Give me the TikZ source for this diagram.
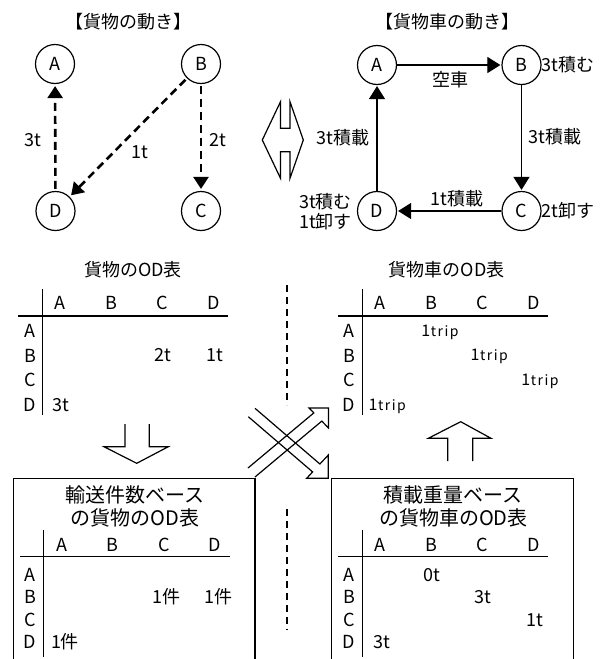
\documentclass[tikz,border=0pt]{standalone}
\usepackage{fontspec}
\setmainfont{Noto Sans CJK JP}
\usetikzlibrary{arrows.meta}
\newcommand\triptxt{{\fontsize{16}{16}\selectfont 1}{\fontsize{14}{14}\selectfont\kern0.5pt t\kern1.5pt r\kern1.5pt i\kern1.5pt p}}
\begin{document}
\begin{tikzpicture}[x=1pt,y=-1pt,
  every node/.style={font=\fontsize{18}{20}\selectfont, inner sep=0pt},
  stn/.style={circle, draw, line width=1.2pt, minimum size=39pt, inner sep=0pt},
  dasharrow/.style={line width=2.6pt, dash pattern=on 8pt off 5pt, shorten >=2pt, shorten <=2pt, -{Triangle[length=12pt,width=15pt]}},
  solidarrow/.style={line width=1.1pt, shorten >=1pt, -{Triangle[length=13pt,width=16pt]}},
  hollow/.style={line width=1.2pt, line join=miter},
  tbl/.style={line width=1.3pt},
  boxline/.style={line width=1.2pt},
  middash/.style={line width=2.6pt, dash pattern=on 7pt off 5pt},
  bigtitle/.style={font=\fontsize{20}{22}\selectfont}]
\useasboundingbox (0,0) rectangle (612,659);

% ---- titles
\node (ttl1) at (128,22) {【貨物の動き】};
\node (ttl2) at (447.5,22) {【貨物車の動き】};

% ---- cargo movement
\node[stn] (gA) at (55,64) {A};
\node[stn] (gB) at (201,64) {B};
\node[stn] (gD) at (55.5,211) {D};
\node[stn] (gC) at (201,211) {C};
\draw[dasharrow] (gD) -- (gA);
\draw[dasharrow] (gB) -- (gD);
\draw[dasharrow] (gB) -- (gC);
\node (l3t) at (33,140) {3t};
\node (l2t) at (218,140) {2t};
\node (l1t) at (140,152) {1t};

% ---- double hollow arrow
\draw[hollow] (262.3,140) -- (280.5,101.7) -- (280.5,128.3) -- (290,128.3) -- (290,101.7)
  -- (303.3,140) -- (290,178.3) -- (290,151.7) -- (280.5,151.7) -- (280.5,178.3) -- cycle;

% ---- truck movement
\node[stn] (tA) at (377,65) {A};
\node[stn] (tB) at (521.5,65) {B};
\node[stn] (tD) at (377,211) {D};
\node[stn] (tC) at (521.5,211) {C};
\draw[solidarrow] (tA) -- (tB);
\draw[solidarrow] (tB) -- (tC);
\draw[solidarrow] (tC) -- (tD);
\draw[solidarrow] (tD) -- (tA);
\node (lAB) at (450,80) {空車};
\node[anchor=west] (lB) at (541.5,65) {3t積む};
\node (lBC) at (555,137) {3t積載};
\node (lCD) at (456.7,199) {1t積載};
\node[anchor=west] (lC) at (541.5,211) {2t卸す};
\node (lDA) at (343,138) {3t積載};
\node[anchor=east] (lD1) at (352,202) {3t積む};
\node[anchor=east] (lD2) at (352,222) {1t卸す};

% ---- table 1
\node (h1) at (133,270) {貨物のOD表};
\draw[tbl] (42.7,289) -- (42.7,415);
\draw[tbl] (18.3,316) -- (228.3,316);
\foreach \c [count=\i from 0] in {A,B,C,D} {
  \node (t1c\c) at (60+51.1*\i,303.3) {\c};
  \node (t1r\c) at (30,330.7+24.8*\i) {\c};
}
\node (t1BC) at (163.3,355) {2t};
\node (t1BD) at (215,355) {1t};
\node (t1DA) at (60.7,405) {3t};

% ---- table 2
\node (h2) at (446.7,270) {貨物車のOD表};
\draw[tbl] (362.3,289) -- (362.3,415);
\draw[tbl] (338.3,316) -- (547.7,316);
\foreach \c [count=\i from 0] in {A,B,C,D} {
  \node (t2c\c) at (380+51.1*\i,303.3) {\c};
  \node (t2r\c) at (349,330.7+24.8*\i) {\c};
}
\node (t2AB) at (440,332) {\triptxt};
\node (t2BC) at (489.3,356) {\triptxt};
\node (t2CD) at (540,381) {\triptxt};
\node (t2DA) at (387.3,406) {\triptxt};

% ---- middle dashed separators
\draw[middash] (287,285) -- (287,405);
\draw[middash] (287,509) -- (287,630);

% ---- hollow down / up arrows
\draw[hollow] (125,424) -- (125,446.7) -- (104,446.7) -- (136.7,463.3) -- (168.3,446.7) -- (149.3,446.7) -- (149.3,424);
\draw[hollow] (447.7,461) -- (447.7,438.3) -- (428.3,438.3) -- (460.7,421.7) -- (491,438.3) -- (472.7,438.3) -- (472.7,461);

% ---- crossing hollow arrows
\draw[hollow] (255,477) -- (321.8,421.1) -- (328.5,428) -- (328.5,408) -- (309,408) -- (313.8,412.9) -- (248,468);
\draw[hollow] (248.3,416.7) -- (312.6,471.9) -- (306.7,478.3) -- (328.3,478.3) -- (328.3,455) -- (319.9,464.0) -- (255,408.3);

% ---- bottom boxes
\draw[boxline] (13.3,660) -- (13.3,478.3) -- (255,478.3) -- (255,660);
\draw[boxline] (331.7,660) -- (331.7,478.3) -- (573.3,478.3) -- (573.3,660);

% ---- table 3
\node[bigtitle] (h3a) at (135,495) {輸送件数ベース};
\node[bigtitle] (h3b) at (135,518.3) {の貨物のOD表};
\draw[tbl] (43.3,530) -- (43.3,656.7);
\draw[tbl] (20,556.7) -- (230,556.7);
\foreach \c [count=\i from 0] in {A,B,C,D} {
  \node (t3c\c) at (61.7+51.1*\i,545) {\c};
  \node (t3r\c) at (30,575+22.2*\i) {\c};
}
\node (t3BC) at (166.7,596.7) {1件};
\node (t3BD) at (218.3,596.7) {1件};
\node (t3DA) at (65,641.7) {1件};

% ---- table 4
\node[bigtitle] (h4a) at (453.3,495) {積載重量ベース};
\node[bigtitle] (h4b) at (453.3,518.3) {の貨物車のOD表};
\draw[tbl] (362.3,530) -- (362.3,656.7);
\draw[tbl] (338.3,556.7) -- (547.7,556.7);
\foreach \c [count=\i from 0] in {A,B,C,D} {
  \node (t4c\c) at (380+51.1*\i,545) {\c};
  \node (t4r\c) at (349,575+22.2*\i) {\c};
}
\node (t4AB) at (431.7,575) {0t};
\node (t4BC) at (482.7,596.7) {3t};
\node (t4CD) at (535,620) {1t};
\node (t4DA) at (381.7,641.7) {3t};
\end{tikzpicture}
\end{document}
